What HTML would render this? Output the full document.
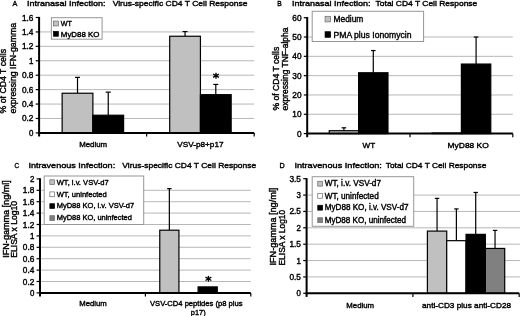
<!DOCTYPE html>
<html><head><meta charset="utf-8"><title>Figure</title>
<style>
html,body{margin:0;padding:0;background:#fff;}
svg{display:block;will-change:transform;}
text{font-family:"Liberation Sans",sans-serif;fill:#000;white-space:pre;stroke:#000;stroke-width:0.4px;}
</style></head><body>
<svg width="520" height="316" viewBox="0 0 520 316">
<rect x="0" y="0" width="520" height="316" fill="#fff"/>
<line x1="39.1" y1="118.48" x2="254.2" y2="118.48" stroke="#a6a6a6" stroke-width="0.8"/>
<line x1="39.1" y1="104.05" x2="254.2" y2="104.05" stroke="#a6a6a6" stroke-width="0.8"/>
<line x1="39.1" y1="89.62" x2="254.2" y2="89.62" stroke="#a6a6a6" stroke-width="0.8"/>
<line x1="39.1" y1="75.20" x2="254.2" y2="75.20" stroke="#a6a6a6" stroke-width="0.8"/>
<line x1="39.1" y1="60.78" x2="254.2" y2="60.78" stroke="#a6a6a6" stroke-width="0.8"/>
<line x1="39.1" y1="46.35" x2="254.2" y2="46.35" stroke="#a6a6a6" stroke-width="0.8"/>
<line x1="39.1" y1="31.93" x2="254.2" y2="31.93" stroke="#a6a6a6" stroke-width="0.8"/>
<line x1="77.51" y1="77.36" x2="77.51" y2="93.23" stroke="#000" stroke-width="1.2"/>
<line x1="75.01" y1="77.36" x2="80.01" y2="77.36" stroke="#000" stroke-width="1.2"/>
<rect x="62.15" y="93.23" width="30.73" height="39.67" fill="#c0c0c0" stroke="#000" stroke-width="1.2"/>
<line x1="108.24" y1="92.15" x2="108.24" y2="115.23" stroke="#000" stroke-width="1.2"/>
<line x1="105.74" y1="92.15" x2="110.74" y2="92.15" stroke="#000" stroke-width="1.2"/>
<rect x="92.88" y="115.23" width="30.73" height="17.67" fill="#000" stroke="#000" stroke-width="1.2"/>
<line x1="185.06" y1="31.56" x2="185.06" y2="36.25" stroke="#000" stroke-width="1.2"/>
<line x1="182.56" y1="31.56" x2="187.56" y2="31.56" stroke="#000" stroke-width="1.2"/>
<rect x="169.70" y="36.25" width="30.73" height="96.65" fill="#c0c0c0" stroke="#000" stroke-width="1.2"/>
<line x1="215.79" y1="84.43" x2="215.79" y2="94.67" stroke="#000" stroke-width="1.2"/>
<line x1="213.29" y1="84.43" x2="218.29" y2="84.43" stroke="#000" stroke-width="1.2"/>
<rect x="200.43" y="94.67" width="30.73" height="38.23" fill="#000" stroke="#000" stroke-width="1.2"/>
<line x1="39.1" y1="16.9" x2="39.1" y2="136.5" stroke="#000" stroke-width="2"/>
<line x1="38.1" y1="132.9" x2="254.2" y2="132.9" stroke="#000" stroke-width="2"/>
<line x1="35.7" y1="132.90" x2="39.1" y2="132.90" stroke="#000" stroke-width="1.2"/>
<text x="29.0" y="135.90" font-size="8.2" text-anchor="start" textLength="4.4" lengthAdjust="spacingAndGlyphs" stroke-width="0.35">0</text>
<line x1="35.7" y1="118.48" x2="39.1" y2="118.48" stroke="#000" stroke-width="1.2"/>
<text x="21.9" y="121.48" font-size="8.2" text-anchor="start" textLength="11.5" lengthAdjust="spacingAndGlyphs" stroke-width="0.35">0.2</text>
<line x1="35.7" y1="104.05" x2="39.1" y2="104.05" stroke="#000" stroke-width="1.2"/>
<text x="21.9" y="107.05" font-size="8.2" text-anchor="start" textLength="11.5" lengthAdjust="spacingAndGlyphs" stroke-width="0.35">0.4</text>
<line x1="35.7" y1="89.62" x2="39.1" y2="89.62" stroke="#000" stroke-width="1.2"/>
<text x="21.9" y="92.62" font-size="8.2" text-anchor="start" textLength="11.5" lengthAdjust="spacingAndGlyphs" stroke-width="0.35">0.6</text>
<line x1="35.7" y1="75.20" x2="39.1" y2="75.20" stroke="#000" stroke-width="1.2"/>
<text x="21.9" y="78.20" font-size="8.2" text-anchor="start" textLength="11.5" lengthAdjust="spacingAndGlyphs" stroke-width="0.35">0.8</text>
<line x1="35.7" y1="60.78" x2="39.1" y2="60.78" stroke="#000" stroke-width="1.2"/>
<text x="29.0" y="63.78" font-size="8.2" text-anchor="start" textLength="4.4" lengthAdjust="spacingAndGlyphs" stroke-width="0.35">1</text>
<line x1="35.7" y1="46.35" x2="39.1" y2="46.35" stroke="#000" stroke-width="1.2"/>
<text x="21.9" y="49.35" font-size="8.2" text-anchor="start" textLength="11.5" lengthAdjust="spacingAndGlyphs" stroke-width="0.35">1.2</text>
<line x1="35.7" y1="31.93" x2="39.1" y2="31.93" stroke="#000" stroke-width="1.2"/>
<text x="21.9" y="34.93" font-size="8.2" text-anchor="start" textLength="11.5" lengthAdjust="spacingAndGlyphs" stroke-width="0.35">1.4</text>
<line x1="35.7" y1="17.50" x2="39.1" y2="17.50" stroke="#000" stroke-width="1.2"/>
<text x="21.9" y="20.50" font-size="8.2" text-anchor="start" textLength="11.5" lengthAdjust="spacingAndGlyphs" stroke-width="0.35">1.6</text>
<line x1="146.65" y1="132.9" x2="146.65" y2="136.5" stroke="#000" stroke-width="1.2"/>
<line x1="254.20" y1="132.9" x2="254.20" y2="136.5" stroke="#000" stroke-width="1.2"/>
<rect x="51.40" y="17.70" width="50.70" height="21.50" fill="#fff" stroke="#969696" stroke-width="1"/>
<rect x="53.45" y="21.05" width="4.90" height="4.90" fill="#c0c0c0" stroke="#6a6a6a" stroke-width="0.7"/>
<text x="60.8" y="26.2" font-size="8.0" text-anchor="start" textLength="11.2" lengthAdjust="spacingAndGlyphs">WT</text>
<rect x="53.45" y="31.35" width="4.90" height="4.90" fill="#000" stroke="#000" stroke-width="0.7"/>
<text x="60.8" y="36.5" font-size="8.0" text-anchor="start" textLength="38.7" lengthAdjust="spacingAndGlyphs">MyD88 KO</text>
<text x="12.6" y="5.9" font-size="8.0" text-anchor="start" textLength="4.8" lengthAdjust="spacingAndGlyphs">A</text>
<text x="27.0" y="5.9" font-size="8.0" text-anchor="start" textLength="78.6" lengthAdjust="spacingAndGlyphs">Intranasal Infection:</text>
<text x="112.7" y="5.9" font-size="8.0" text-anchor="start" textLength="134.8" lengthAdjust="spacingAndGlyphs">Virus-specific CD4 T Cell Response</text>
<text x="79.2" y="146.8" font-size="8.0" text-anchor="start" textLength="27.9" lengthAdjust="spacingAndGlyphs">Medium</text>
<text x="177.3" y="146.8" font-size="8.0" text-anchor="start" textLength="46.2" lengthAdjust="spacingAndGlyphs">VSV-p8+p17</text>
<text x="6.3" y="113.4" font-size="8.4" text-anchor="start" textLength="64.5" lengthAdjust="spacingAndGlyphs" transform="rotate(-90 6.3 113.4)">% of CD4 T cells</text>
<text x="15.6" y="113.4" font-size="8.4" text-anchor="start" textLength="90.4" lengthAdjust="spacingAndGlyphs" transform="rotate(-90 15.6 113.4)">expressing IFN-gamma</text>
<circle cx="216.0" cy="75.7" r="1.3" fill="#000"/>
<line x1="216.00" y1="72.75" x2="216.00" y2="78.65" stroke="#000" stroke-width="1.3"/>
<line x1="213.06" y1="74.00" x2="218.94" y2="77.40" stroke="#000" stroke-width="1.3"/>
<line x1="218.94" y1="74.00" x2="213.06" y2="77.40" stroke="#000" stroke-width="1.3"/>
<line x1="307.2" y1="114.28" x2="512.8" y2="114.28" stroke="#a6a6a6" stroke-width="0.8"/>
<line x1="307.2" y1="94.97" x2="512.8" y2="94.97" stroke="#a6a6a6" stroke-width="0.8"/>
<line x1="307.2" y1="75.65" x2="512.8" y2="75.65" stroke="#a6a6a6" stroke-width="0.8"/>
<line x1="307.2" y1="56.33" x2="512.8" y2="56.33" stroke="#a6a6a6" stroke-width="0.8"/>
<line x1="307.2" y1="37.02" x2="512.8" y2="37.02" stroke="#a6a6a6" stroke-width="0.8"/>
<line x1="343.91" y1="127.80" x2="343.91" y2="130.70" stroke="#000" stroke-width="1.2"/>
<line x1="341.61" y1="127.80" x2="346.21" y2="127.80" stroke="#000" stroke-width="1.2"/>
<rect x="329.23" y="130.70" width="29.37" height="2.90" fill="#c0c0c0" stroke="#000" stroke-width="1.2"/>
<line x1="373.29" y1="50.54" x2="373.29" y2="72.75" stroke="#000" stroke-width="1.2"/>
<line x1="370.99" y1="50.54" x2="375.59" y2="50.54" stroke="#000" stroke-width="1.2"/>
<rect x="358.60" y="72.75" width="29.37" height="60.85" fill="#000" stroke="#000" stroke-width="1.2"/>
<rect x="432.03" y="133.02" width="29.37" height="0.58" fill="#c0c0c0" stroke="#000" stroke-width="1.2"/>
<line x1="476.09" y1="37.02" x2="476.09" y2="64.06" stroke="#000" stroke-width="1.2"/>
<line x1="473.79" y1="37.02" x2="478.39" y2="37.02" stroke="#000" stroke-width="1.2"/>
<rect x="461.40" y="64.06" width="29.37" height="69.54" fill="#000" stroke="#000" stroke-width="1.2"/>
<line x1="307.2" y1="17.099999999999998" x2="307.2" y2="137.2" stroke="#000" stroke-width="2"/>
<line x1="306.2" y1="133.6" x2="512.8" y2="133.6" stroke="#000" stroke-width="2"/>
<line x1="303.8" y1="133.60" x2="307.2" y2="133.60" stroke="#000" stroke-width="1.2"/>
<text x="296.9" y="136.60" font-size="8.6" text-anchor="start" textLength="4.6" lengthAdjust="spacingAndGlyphs" stroke-width="0.35">0</text>
<line x1="303.8" y1="114.28" x2="307.2" y2="114.28" stroke="#000" stroke-width="1.2"/>
<text x="292.3" y="117.28" font-size="8.6" text-anchor="start" textLength="9.2" lengthAdjust="spacingAndGlyphs" stroke-width="0.35">10</text>
<line x1="303.8" y1="94.97" x2="307.2" y2="94.97" stroke="#000" stroke-width="1.2"/>
<text x="292.3" y="97.97" font-size="8.6" text-anchor="start" textLength="9.2" lengthAdjust="spacingAndGlyphs" stroke-width="0.35">20</text>
<line x1="303.8" y1="75.65" x2="307.2" y2="75.65" stroke="#000" stroke-width="1.2"/>
<text x="292.3" y="78.65" font-size="8.6" text-anchor="start" textLength="9.2" lengthAdjust="spacingAndGlyphs" stroke-width="0.35">30</text>
<line x1="303.8" y1="56.33" x2="307.2" y2="56.33" stroke="#000" stroke-width="1.2"/>
<text x="292.3" y="59.33" font-size="8.6" text-anchor="start" textLength="9.2" lengthAdjust="spacingAndGlyphs" stroke-width="0.35">40</text>
<line x1="303.8" y1="37.02" x2="307.2" y2="37.02" stroke="#000" stroke-width="1.2"/>
<text x="292.3" y="40.02" font-size="8.6" text-anchor="start" textLength="9.2" lengthAdjust="spacingAndGlyphs" stroke-width="0.35">50</text>
<line x1="303.8" y1="17.70" x2="307.2" y2="17.70" stroke="#000" stroke-width="1.2"/>
<text x="292.3" y="20.70" font-size="8.6" text-anchor="start" textLength="9.2" lengthAdjust="spacingAndGlyphs" stroke-width="0.35">60</text>
<line x1="410.00" y1="133.6" x2="410.00" y2="137.2" stroke="#000" stroke-width="1.2"/>
<line x1="512.80" y1="133.6" x2="512.80" y2="137.2" stroke="#000" stroke-width="1.2"/>
<rect x="312.20" y="11.30" width="111.40" height="30.20" fill="#fff" stroke="#969696" stroke-width="1"/>
<rect x="325.05" y="16.30" width="5.60" height="5.60" fill="#c0c0c0" stroke="#6a6a6a" stroke-width="0.7"/>
<text x="333.5" y="22.3" font-size="9.2" text-anchor="start" textLength="29.8" lengthAdjust="spacingAndGlyphs">Medium</text>
<rect x="325.05" y="31.70" width="5.60" height="5.60" fill="#000" stroke="#000" stroke-width="0.7"/>
<text x="333.5" y="37.7" font-size="9.2" text-anchor="start" textLength="78" lengthAdjust="spacingAndGlyphs">PMA plus Ionomycin</text>
<text x="277.2" y="5.9" font-size="8.0" text-anchor="start" textLength="4.5" lengthAdjust="spacingAndGlyphs">B</text>
<text x="292.0" y="5.9" font-size="8.0" text-anchor="start" textLength="78.5" lengthAdjust="spacingAndGlyphs">Intranasal Infection:</text>
<text x="375.6" y="5.9" font-size="8.0" text-anchor="start" textLength="101.7" lengthAdjust="spacingAndGlyphs">Total CD4 T Cell Response</text>
<text x="362.6" y="148.2" font-size="8.0" text-anchor="start" textLength="12.6" lengthAdjust="spacingAndGlyphs">WT</text>
<text x="447.6" y="148.2" font-size="8.0" text-anchor="start" textLength="41.2" lengthAdjust="spacingAndGlyphs">MyD88 KO</text>
<text x="278.5" y="110.5" font-size="8.4" text-anchor="start" textLength="63.7" lengthAdjust="spacingAndGlyphs" transform="rotate(-90 278.5 110.5)">% of CD4 T cells</text>
<text x="287.7" y="110.5" font-size="8.4" text-anchor="start" textLength="83" lengthAdjust="spacingAndGlyphs" transform="rotate(-90 287.7 110.5)">expressing TNF-alpha</text>
<line x1="40" y1="281.50" x2="250.8" y2="281.50" stroke="#a6a6a6" stroke-width="0.8"/>
<line x1="40" y1="270.10" x2="250.8" y2="270.10" stroke="#a6a6a6" stroke-width="0.8"/>
<line x1="40" y1="258.70" x2="250.8" y2="258.70" stroke="#a6a6a6" stroke-width="0.8"/>
<line x1="40" y1="247.30" x2="250.8" y2="247.30" stroke="#a6a6a6" stroke-width="0.8"/>
<line x1="40" y1="235.90" x2="250.8" y2="235.90" stroke="#a6a6a6" stroke-width="0.8"/>
<line x1="40" y1="224.50" x2="250.8" y2="224.50" stroke="#a6a6a6" stroke-width="0.8"/>
<line x1="40" y1="213.10" x2="250.8" y2="213.10" stroke="#a6a6a6" stroke-width="0.8"/>
<line x1="40" y1="201.70" x2="250.8" y2="201.70" stroke="#a6a6a6" stroke-width="0.8"/>
<line x1="40" y1="190.30" x2="250.8" y2="190.30" stroke="#a6a6a6" stroke-width="0.8"/>
<line x1="169.35" y1="188.59" x2="169.35" y2="230.20" stroke="#000" stroke-width="1.2"/>
<line x1="167.15" y1="188.59" x2="171.55" y2="188.59" stroke="#000" stroke-width="1.2"/>
<rect x="159.77" y="230.20" width="19.16" height="62.70" fill="#c0c0c0" stroke="#000" stroke-width="1.2"/>
<rect x="198.10" y="286.91" width="19.16" height="5.98" fill="#000" stroke="#000" stroke-width="1.2"/>
<line x1="40" y1="178.3" x2="40" y2="296.5" stroke="#000" stroke-width="2"/>
<line x1="39" y1="292.9" x2="250.8" y2="292.9" stroke="#000" stroke-width="2"/>
<line x1="36.6" y1="292.90" x2="40" y2="292.90" stroke="#000" stroke-width="1.2"/>
<text x="29.9" y="295.90" font-size="8.2" text-anchor="start" textLength="4.4" lengthAdjust="spacingAndGlyphs" stroke-width="0.35">0</text>
<line x1="36.6" y1="281.50" x2="40" y2="281.50" stroke="#000" stroke-width="1.2"/>
<text x="22.8" y="284.50" font-size="8.2" text-anchor="start" textLength="11.5" lengthAdjust="spacingAndGlyphs" stroke-width="0.35">0.2</text>
<line x1="36.6" y1="270.10" x2="40" y2="270.10" stroke="#000" stroke-width="1.2"/>
<text x="22.8" y="273.10" font-size="8.2" text-anchor="start" textLength="11.5" lengthAdjust="spacingAndGlyphs" stroke-width="0.35">0.4</text>
<line x1="36.6" y1="258.70" x2="40" y2="258.70" stroke="#000" stroke-width="1.2"/>
<text x="22.8" y="261.70" font-size="8.2" text-anchor="start" textLength="11.5" lengthAdjust="spacingAndGlyphs" stroke-width="0.35">0.6</text>
<line x1="36.6" y1="247.30" x2="40" y2="247.30" stroke="#000" stroke-width="1.2"/>
<text x="22.8" y="250.30" font-size="8.2" text-anchor="start" textLength="11.5" lengthAdjust="spacingAndGlyphs" stroke-width="0.35">0.8</text>
<line x1="36.6" y1="235.90" x2="40" y2="235.90" stroke="#000" stroke-width="1.2"/>
<text x="29.9" y="238.90" font-size="8.2" text-anchor="start" textLength="4.4" lengthAdjust="spacingAndGlyphs" stroke-width="0.35">1</text>
<line x1="36.6" y1="224.50" x2="40" y2="224.50" stroke="#000" stroke-width="1.2"/>
<text x="22.8" y="227.50" font-size="8.2" text-anchor="start" textLength="11.5" lengthAdjust="spacingAndGlyphs" stroke-width="0.35">1.2</text>
<line x1="36.6" y1="213.10" x2="40" y2="213.10" stroke="#000" stroke-width="1.2"/>
<text x="22.8" y="216.10" font-size="8.2" text-anchor="start" textLength="11.5" lengthAdjust="spacingAndGlyphs" stroke-width="0.35">1.4</text>
<line x1="36.6" y1="201.70" x2="40" y2="201.70" stroke="#000" stroke-width="1.2"/>
<text x="22.8" y="204.70" font-size="8.2" text-anchor="start" textLength="11.5" lengthAdjust="spacingAndGlyphs" stroke-width="0.35">1.6</text>
<line x1="36.6" y1="190.30" x2="40" y2="190.30" stroke="#000" stroke-width="1.2"/>
<text x="22.8" y="193.30" font-size="8.2" text-anchor="start" textLength="11.5" lengthAdjust="spacingAndGlyphs" stroke-width="0.35">1.8</text>
<line x1="36.6" y1="178.90" x2="40" y2="178.90" stroke="#000" stroke-width="1.2"/>
<text x="29.9" y="181.90" font-size="8.2" text-anchor="start" textLength="4.4" lengthAdjust="spacingAndGlyphs" stroke-width="0.35">2</text>
<line x1="145.40" y1="292.9" x2="145.40" y2="296.5" stroke="#000" stroke-width="1.2"/>
<line x1="250.80" y1="292.9" x2="250.80" y2="296.5" stroke="#000" stroke-width="1.2"/>
<rect x="44.20" y="176.00" width="99.50" height="48.50" fill="#fff" stroke="#969696" stroke-width="1"/>
<rect x="49.85" y="179.80" width="4.80" height="4.80" fill="#c0c0c0" stroke="#6a6a6a" stroke-width="0.7"/>
<text x="56.7" y="184.5" font-size="8.0" text-anchor="start" textLength="52.1" lengthAdjust="spacingAndGlyphs">WT, i.v. VSV-d7</text>
<rect x="49.85" y="191.90" width="4.80" height="4.80" fill="#fff" stroke="#6a6a6a" stroke-width="0.7"/>
<text x="56.7" y="196.5" font-size="8.0" text-anchor="start" textLength="50" lengthAdjust="spacingAndGlyphs">WT, uninfected</text>
<rect x="49.85" y="203.70" width="4.80" height="4.80" fill="#000" stroke="#000" stroke-width="0.7"/>
<text x="56.7" y="208.2" font-size="8.0" text-anchor="start" textLength="77.5" lengthAdjust="spacingAndGlyphs">MyD88 KO, i.v. VSV-d7</text>
<rect x="49.85" y="215.70" width="4.80" height="4.80" fill="#808080" stroke="#6a6a6a" stroke-width="0.7"/>
<text x="56.7" y="220.1" font-size="8.0" text-anchor="start" textLength="75.2" lengthAdjust="spacingAndGlyphs">MyD88 KO, uninfected</text>
<text x="14.4" y="167.6" font-size="8.0" text-anchor="start" textLength="4.6" lengthAdjust="spacingAndGlyphs">C</text>
<text x="28.4" y="167.6" font-size="8.0" text-anchor="start" textLength="86.8" lengthAdjust="spacingAndGlyphs">Intravenous Infection:</text>
<text x="122.3" y="167.6" font-size="8.0" text-anchor="start" textLength="133.9" lengthAdjust="spacingAndGlyphs">Virus-specific CD4 T Cell Response</text>
<text x="79.3" y="305.8" font-size="8.0" text-anchor="start" textLength="27.5" lengthAdjust="spacingAndGlyphs">Medium</text>
<text x="150" y="305.8" font-size="8.0" text-anchor="start" textLength="92.5" lengthAdjust="spacingAndGlyphs">VSV-CD4 peptides (p8 plus</text>
<text x="190.8" y="314.7" font-size="8.0" text-anchor="start" textLength="14.8" lengthAdjust="spacingAndGlyphs">p17)</text>
<text x="8.7" y="257.7" font-size="8.4" text-anchor="start" textLength="77.5" lengthAdjust="spacingAndGlyphs" transform="rotate(-90 8.7 257.7)">IFN-gamma [ng/ml]</text>
<text x="17.3" y="257.7" font-size="8.4" text-anchor="start" textLength="56.7" lengthAdjust="spacingAndGlyphs" transform="rotate(-90 17.3 257.7)">ELISA x Log10</text>
<circle cx="208.4" cy="278.8" r="1.3" fill="#000"/>
<line x1="208.40" y1="275.85" x2="208.40" y2="281.75" stroke="#000" stroke-width="1.3"/>
<line x1="205.46" y1="277.10" x2="211.34" y2="280.50" stroke="#000" stroke-width="1.3"/>
<line x1="211.34" y1="277.10" x2="205.46" y2="280.50" stroke="#000" stroke-width="1.3"/>
<line x1="306.6" y1="276.93" x2="520" y2="276.93" stroke="#a6a6a6" stroke-width="0.8"/>
<line x1="306.6" y1="260.56" x2="520" y2="260.56" stroke="#a6a6a6" stroke-width="0.8"/>
<line x1="306.6" y1="244.19" x2="520" y2="244.19" stroke="#a6a6a6" stroke-width="0.8"/>
<line x1="306.6" y1="227.81" x2="520" y2="227.81" stroke="#a6a6a6" stroke-width="0.8"/>
<line x1="306.6" y1="211.44" x2="520" y2="211.44" stroke="#a6a6a6" stroke-width="0.8"/>
<line x1="306.6" y1="195.07" x2="520" y2="195.07" stroke="#a6a6a6" stroke-width="0.8"/>
<line x1="437.06" y1="198.35" x2="437.06" y2="231.09" stroke="#000" stroke-width="1.2"/>
<line x1="434.86" y1="198.35" x2="439.26" y2="198.35" stroke="#000" stroke-width="1.2"/>
<rect x="427.40" y="231.09" width="19.33" height="62.21" fill="#c0c0c0" stroke="#000" stroke-width="1.2"/>
<line x1="456.39" y1="208.92" x2="456.39" y2="240.68" stroke="#000" stroke-width="1.2"/>
<line x1="454.19" y1="208.92" x2="458.59" y2="208.92" stroke="#000" stroke-width="1.2"/>
<rect x="446.72" y="240.68" width="19.33" height="52.62" fill="#fff" stroke="#000" stroke-width="1.2"/>
<line x1="475.71" y1="192.45" x2="475.71" y2="234.36" stroke="#000" stroke-width="1.2"/>
<line x1="473.51" y1="192.45" x2="477.91" y2="192.45" stroke="#000" stroke-width="1.2"/>
<rect x="466.05" y="234.36" width="19.33" height="58.94" fill="#000" stroke="#000" stroke-width="1.2"/>
<line x1="495.04" y1="230.43" x2="495.04" y2="248.44" stroke="#000" stroke-width="1.2"/>
<line x1="492.84" y1="230.43" x2="497.24" y2="230.43" stroke="#000" stroke-width="1.2"/>
<rect x="485.38" y="248.44" width="19.33" height="44.86" fill="#808080" stroke="#000" stroke-width="1.2"/>
<line x1="306.6" y1="178.1" x2="306.6" y2="296.90000000000003" stroke="#000" stroke-width="2"/>
<line x1="305.6" y1="293.3" x2="519.2" y2="293.3" stroke="#000" stroke-width="2"/>
<line x1="303.20000000000005" y1="293.30" x2="306.6" y2="293.30" stroke="#000" stroke-width="1.2"/>
<text x="296.5" y="296.30" font-size="8.2" text-anchor="start" textLength="4.4" lengthAdjust="spacingAndGlyphs" stroke-width="0.35">0</text>
<line x1="303.20000000000005" y1="276.93" x2="306.6" y2="276.93" stroke="#000" stroke-width="1.2"/>
<text x="289.4" y="279.93" font-size="8.2" text-anchor="start" textLength="11.5" lengthAdjust="spacingAndGlyphs" stroke-width="0.35">0.5</text>
<line x1="303.20000000000005" y1="260.56" x2="306.6" y2="260.56" stroke="#000" stroke-width="1.2"/>
<text x="296.5" y="263.56" font-size="8.2" text-anchor="start" textLength="4.4" lengthAdjust="spacingAndGlyphs" stroke-width="0.35">1</text>
<line x1="303.20000000000005" y1="244.19" x2="306.6" y2="244.19" stroke="#000" stroke-width="1.2"/>
<text x="289.4" y="247.19" font-size="8.2" text-anchor="start" textLength="11.5" lengthAdjust="spacingAndGlyphs" stroke-width="0.35">1.5</text>
<line x1="303.20000000000005" y1="227.81" x2="306.6" y2="227.81" stroke="#000" stroke-width="1.2"/>
<text x="296.5" y="230.81" font-size="8.2" text-anchor="start" textLength="4.4" lengthAdjust="spacingAndGlyphs" stroke-width="0.35">2</text>
<line x1="303.20000000000005" y1="211.44" x2="306.6" y2="211.44" stroke="#000" stroke-width="1.2"/>
<text x="289.4" y="214.44" font-size="8.2" text-anchor="start" textLength="11.5" lengthAdjust="spacingAndGlyphs" stroke-width="0.35">2.5</text>
<line x1="303.20000000000005" y1="195.07" x2="306.6" y2="195.07" stroke="#000" stroke-width="1.2"/>
<text x="296.5" y="198.07" font-size="8.2" text-anchor="start" textLength="4.4" lengthAdjust="spacingAndGlyphs" stroke-width="0.35">3</text>
<line x1="303.20000000000005" y1="178.70" x2="306.6" y2="178.70" stroke="#000" stroke-width="1.2"/>
<text x="289.4" y="181.70" font-size="8.2" text-anchor="start" textLength="11.5" lengthAdjust="spacingAndGlyphs" stroke-width="0.35">3.5</text>
<line x1="412.90" y1="293.3" x2="412.90" y2="296.90000000000003" stroke="#000" stroke-width="1.2"/>
<line x1="519.20" y1="293.3" x2="519.20" y2="296.90000000000003" stroke="#000" stroke-width="1.2"/>
<rect x="312.20" y="176.70" width="101.50" height="49.60" fill="#fff" stroke="#969696" stroke-width="1"/>
<rect x="317.75" y="181.25" width="4.90" height="4.90" fill="#c0c0c0" stroke="#6a6a6a" stroke-width="0.7"/>
<text x="324.7" y="186.3" font-size="8.5" text-anchor="start" textLength="56.3" lengthAdjust="spacingAndGlyphs">WT, i.v. VSV-d7</text>
<rect x="317.75" y="193.35" width="4.90" height="4.90" fill="#fff" stroke="#6a6a6a" stroke-width="0.7"/>
<text x="324.7" y="198.5" font-size="8.5" text-anchor="start" textLength="54" lengthAdjust="spacingAndGlyphs">WT, uninfected</text>
<rect x="317.75" y="205.25" width="4.90" height="4.90" fill="#000" stroke="#000" stroke-width="0.7"/>
<text x="324.7" y="210.4" font-size="8.5" text-anchor="start" textLength="83.8" lengthAdjust="spacingAndGlyphs">MyD88 KO, i.v. VSV-d7</text>
<rect x="317.75" y="217.75" width="4.90" height="4.90" fill="#808080" stroke="#6a6a6a" stroke-width="0.7"/>
<text x="324.7" y="222.9" font-size="8.5" text-anchor="start" textLength="81.3" lengthAdjust="spacingAndGlyphs">MyD88 KO, uninfected</text>
<text x="279.6" y="167.6" font-size="8.0" text-anchor="start" textLength="5.2" lengthAdjust="spacingAndGlyphs">D</text>
<text x="294.4" y="167.6" font-size="8.0" text-anchor="start" textLength="87.5" lengthAdjust="spacingAndGlyphs">Intravenous Infection:</text>
<text x="385.8" y="167.6" font-size="8.0" text-anchor="start" textLength="100.5" lengthAdjust="spacingAndGlyphs">Total CD4 T Cell Response</text>
<text x="346.3" y="307.7" font-size="8.0" text-anchor="start" textLength="27.8" lengthAdjust="spacingAndGlyphs">Medium</text>
<text x="422" y="307.7" font-size="8.0" text-anchor="start" textLength="89.1" lengthAdjust="spacingAndGlyphs">anti-CD3 plus anti-CD28</text>
<text x="275.9" y="265.5" font-size="8.4" text-anchor="start" textLength="77.8" lengthAdjust="spacingAndGlyphs" transform="rotate(-90 275.9 265.5)">IFN-gamma [ng/ml]</text>
<text x="284.8" y="265.5" font-size="8.4" text-anchor="start" textLength="55.7" lengthAdjust="spacingAndGlyphs" transform="rotate(-90 284.8 265.5)">ELISA x Log10</text>
</svg>
</body></html>
